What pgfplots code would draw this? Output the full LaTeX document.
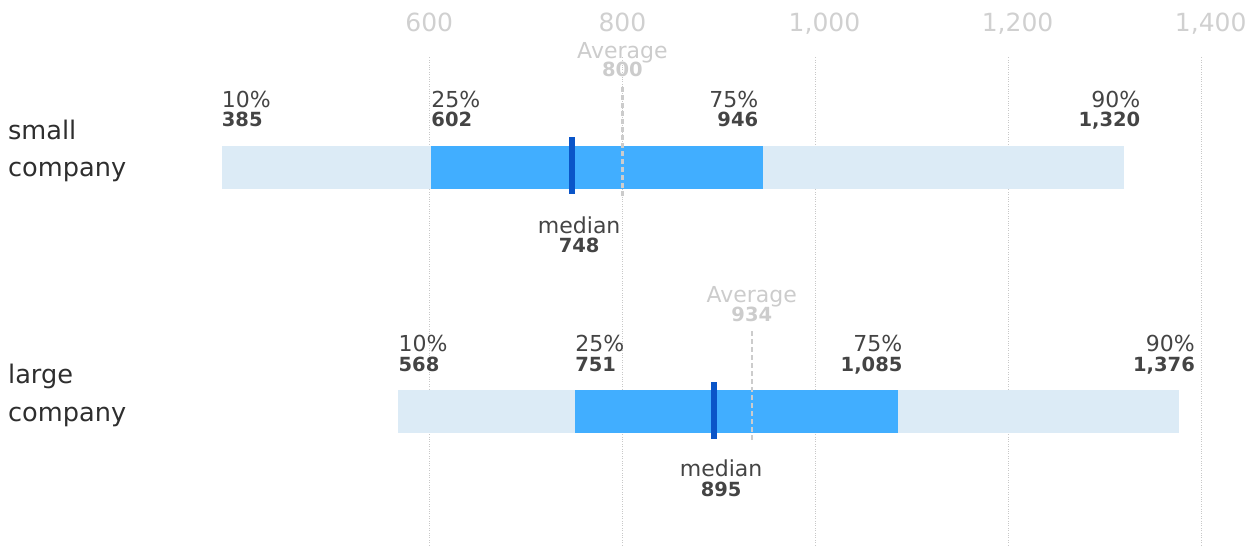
\documentclass[border=0pt]{standalone}
\usepackage{pgfplots}
\pgfplotsset{compat=1.18}
\usepackage{fontspec}
\setmainfont{DejaVu Sans}
\definecolor{lightbar}{HTML}{DCEBF6}
\definecolor{midbar}{HTML}{41AEFF}
\definecolor{medc}{HTML}{0A55C8}
\definecolor{tickc}{HTML}{D0D0D0}
\definecolor{avgc}{HTML}{CCCCCC}
\definecolor{gridc}{HTML}{C8C8C8}
\definecolor{labc}{HTML}{444444}
\definecolor{catc}{HTML}{2E2E2E}
\newcommand{\lab}{\fontsize{22}{24}\selectfont}
\newcommand{\val}{\fontsize{19.5}{22}\selectfont\bfseries}
\newcommand{\cat}{\fontsize{25.6}{28}\selectfont}
\begin{document}
\begin{tikzpicture}
\begin{axis}[
  x=0.9655pt, y=1pt,
  xmin=155.36, xmax=1455.2, ymin=0, ymax=488,
  axis line style={draw=none},
  major tick length=0pt,
  ytick=\empty,
  xtick={600,800,1000,1200,1400},
  xticklabels={{600\hspace{6pt}},{800\hspace{6pt}},{\hspace{18pt}1,000},{\hspace{18pt}1,200},{\hspace{18pt}1,400}},
  xticklabel pos=upper,
  xmajorgrids,
  grid style={dotted, color=gridc, line width=0.6pt},
  xticklabel style={font=\fontsize{25}{28}\selectfont, text=tickc, anchor=base, yshift=25.3pt},
  clip=false,
]
% small company
\addplot[fill=lightbar, draw=none] coordinates {(385,356) (1320,356) (1320,399) (385,399)} -- cycle;
\addplot[fill=midbar, draw=none] coordinates {(602,356) (946,356) (946,399) (602,399)} -- cycle;
\addplot[avgc, line width=2.4pt, dash pattern=on 5pt off 3pt] coordinates {(800,349) (800,460)};
\addplot[medc, line width=6pt] coordinates {(748,351) (748,408)};
% large company
\addplot[fill=lightbar, draw=none] coordinates {(568,112.3) (1376,112.3) (1376,155) (568,155)} -- cycle;
\addplot[fill=midbar, draw=none] coordinates {(751,112.3) (1085,112.3) (1085,155) (751,155)} -- cycle;
\addplot[avgc, line width=2.4pt, dash pattern=on 5pt off 3pt] coordinates {(934,105) (934,215)};
\addplot[medc, line width=6pt] coordinates {(895,106.3) (895,163)};

% labels small
\node[anchor=base west, inner sep=0pt, text=labc, font=\lab] at (axis cs:385,437.3) {10\%};
\node[anchor=base west, inner sep=0pt, text=labc, font=\val] at (axis cs:385,418.3) {385};
\node[anchor=base west, inner sep=0pt, text=labc, font=\lab] at (axis cs:602,437.3) {25\%};
\node[anchor=base west, inner sep=0pt, text=labc, font=\val] at (axis cs:602,418.3) {602};
\node[anchor=base east, inner sep=0pt, text=labc, font=\lab, xshift=-5pt] at (axis cs:946,437.3) {75\%};
\node[anchor=base east, inner sep=0pt, text=labc, font=\val, xshift=-5pt] at (axis cs:946,418.3) {946};
\node[anchor=base east, inner sep=0pt, text=labc, font=\lab, xshift=16pt] at (axis cs:1320,437.3) {90\%};
\node[anchor=base east, inner sep=0pt, text=labc, font=\val, xshift=16pt] at (axis cs:1320,418.3) {1,320};
\node[anchor=base, inner sep=0pt, text=avgc, font=\lab] at (axis cs:800,486.7) {Average};
\node[anchor=base, inner sep=0pt, text=avgc, font=\val] at (axis cs:800,468.3) {800};
\node[anchor=base, inner sep=0pt, text=labc, font=\lab, xshift=7pt] at (axis cs:748,311.7) {median};
\node[anchor=base, inner sep=0pt, text=labc, font=\val, xshift=7pt] at (axis cs:748,292.3) {748};
\node[anchor=base west, inner sep=0pt, text=catc, font=\cat] at (axis cs:163.6,405.7) {small};
\node[anchor=base west, inner sep=0pt, text=catc, font=\cat] at (axis cs:163.6,368.3) {company};

% labels large
\node[anchor=base west, inner sep=0pt, text=labc, font=\lab] at (axis cs:568,193.3) {10\%};
\node[anchor=base west, inner sep=0pt, text=labc, font=\val] at (axis cs:568,173.3) {568};
\node[anchor=base west, inner sep=0pt, text=labc, font=\lab] at (axis cs:751,193.3) {25\%};
\node[anchor=base west, inner sep=0pt, text=labc, font=\val] at (axis cs:751,173.3) {751};
\node[anchor=base east, inner sep=0pt, text=labc, font=\lab, xshift=5pt] at (axis cs:1085,193.3) {75\%};
\node[anchor=base east, inner sep=0pt, text=labc, font=\val, xshift=5pt] at (axis cs:1085,173.3) {1,085};
\node[anchor=base east, inner sep=0pt, text=labc, font=\lab, xshift=16.5pt] at (axis cs:1376,193.3) {90\%};
\node[anchor=base east, inner sep=0pt, text=labc, font=\val, xshift=16.5pt] at (axis cs:1376,173.3) {1,376};
\node[anchor=base, inner sep=0pt, text=avgc, font=\lab] at (axis cs:934,242) {Average};
\node[anchor=base, inner sep=0pt, text=avgc, font=\val] at (axis cs:934,223.3) {934};
\node[anchor=base, inner sep=0pt, text=labc, font=\lab, xshift=7pt] at (axis cs:895,68) {median};
\node[anchor=base, inner sep=0pt, text=labc, font=\val, xshift=7pt] at (axis cs:895,48.3) {895};
\node[anchor=base west, inner sep=0pt, text=catc, font=\cat] at (axis cs:163.6,161.7) {large};
\node[anchor=base west, inner sep=0pt, text=catc, font=\cat] at (axis cs:163.6,123.3) {company};

\path (axis cs:155.36,0) (axis cs:1455.2,545);
\end{axis}
\end{tikzpicture}
\end{document}
